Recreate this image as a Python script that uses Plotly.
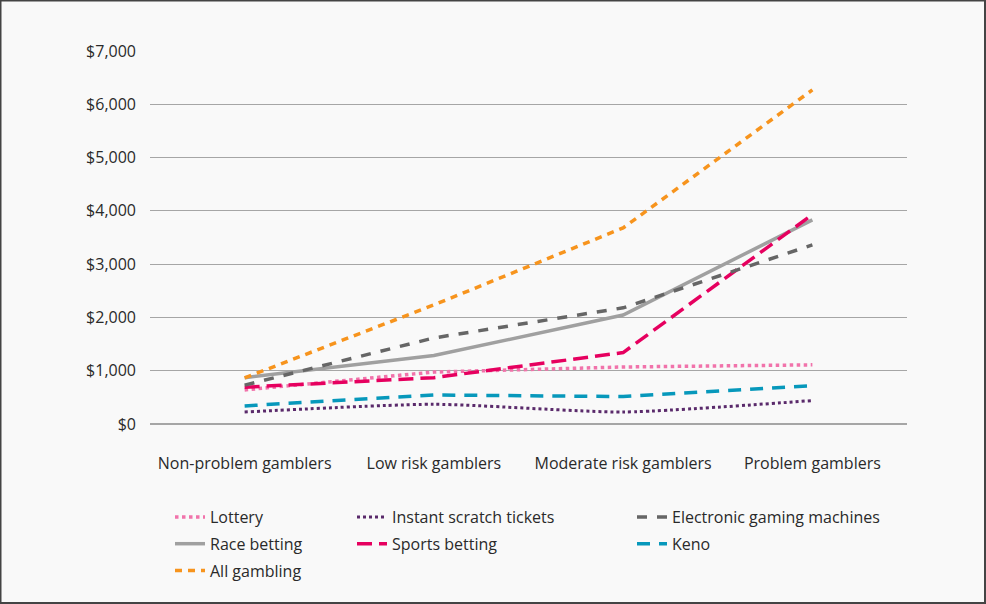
import plotly.graph_objects as go

categories = ["Non-problem gamblers", "Low risk gamblers", "Moderate risk gamblers", "Problem gamblers"]
lottery = [640, 975, 1070, 1110]
instant_scratch = [225, 370, 225, 440]
egm = [730, 1615, 2180, 3360]
race_betting = [870, 1285, 2045, 3830]
sports_betting = [690, 870, 1340, 3930]
keno = [340, 545, 515, 720]
all_gambling = [865, 2235, 3680, 6270]
y_ticks = [0, 1000, 2000, 3000, 4000, 5000, 6000, 7000]
y_tick_labels = ["$0", "$1,000", "$2,000", "$3,000", "$4,000", "$5,000", "$6,000", "$7,000"]

series = [
    ("Lottery", lottery, "#f173ab", "dot", 3.5, "linear", "legend"),
    ("Race betting", race_betting, "#a0a0a0", "solid", 3.5, "linear", "legend"),
    ("All gambling", all_gambling, "#f7941d", "7px,6px", 3.5, "linear", "legend"),
    ("Instant scratch tickets", instant_scratch, "#5a2a6b", "dot", 3, "spline", "legend2"),
    ("Sports betting", sports_betting, "#e6005f", "15px,7px", 3.5, "linear", "legend2"),
    ("Electronic gaming machines", egm, "#666666", "10px,10px", 3.5, "linear", "legend3"),
    ("Keno", keno, "#0798bb", "13px,9px", 3.5, "linear", "legend3"),
]

fig = go.Figure()
for name, vals, color, dash, w, shape, leg in series:
    fig.add_trace(go.Scatter(
        x=categories, y=vals, name=name, mode="lines", legend=leg, legendgroup=name,
        line=dict(color=color, dash=dash, width=w, shape=shape, smoothing=0.6),
    ))

PL, PR, PT, PB = 150, 907, 51, 424
W = PR - PL
H = PB - PT

def px_x(px):
    return (px - PL) / W

def px_y(py):
    return (PB - py) / H

leg_common = dict(orientation="v", yanchor="top", xanchor="left", tracegroupgap=3,
                  font=dict(size=16), bgcolor="rgba(0,0,0,0)", itemwidth=30,
                  traceorder="grouped")

fig.update_layout(
    width=986, height=604,
    paper_bgcolor="#f9f9f9", plot_bgcolor="#f9f9f9",
    margin=dict(l=PL, r=986 - PR, t=PT, b=604 - PB, autoexpand=False),
    font=dict(family="Open Sans, sans-serif", size=16, color="#2a2a2a"),
    xaxis=dict(type="category", range=[-0.5, 3.5], showgrid=False, zeroline=False,
               showline=False, ticks="", tickfont=dict(size=16), ticklabelstandoff=28),
    yaxis=dict(range=[0, 7000], tickvals=y_ticks, ticktext=y_tick_labels,
               showgrid=True, gridcolor="#a6a6a6", gridwidth=1, zeroline=True,
               zerolinecolor="#a6a6a6", zerolinewidth=1.5, showline=False,
               ticks="", ticklabelstandoff=13, tickfont=dict(size=16)),
    legend=dict(x=px_x(170), y=px_y(500), **leg_common),
    legend2=dict(x=px_x(352), y=px_y(500), **leg_common),
    legend3=dict(x=px_x(632), y=px_y(500), **leg_common),
    showlegend=True,
)

fig.add_shape(type="rect", xref="paper", yref="paper",
              x0=px_x(0.5), x1=px_x(985),
              y0=px_y(603), y1=px_y(0.5),
              line=dict(color="#444444", width=2), fillcolor="rgba(0,0,0,0)", layer="above")

fig.write_html("out.html", config={"displayModeBar": False},
               post_script="document.body.style.margin='0';")
